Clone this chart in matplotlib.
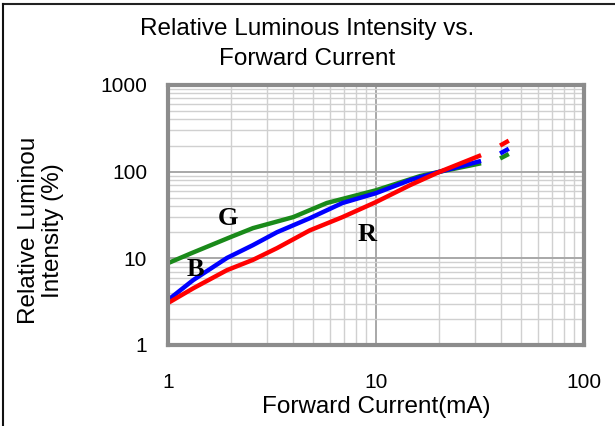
import matplotlib
matplotlib.use("Agg")
import matplotlib.pyplot as plt
from matplotlib.lines import Line2D
from matplotlib.ticker import LogLocator, NullFormatter, FixedLocator

# 読み取った値
current_g = [1.0, 1.3, 2.0, 2.56, 4.0, 5.8, 10.0, 16.3, 20.3, 32.0]
lum_g = [8.8, 11.5, 17.6, 22.3, 29.9, 43.5, 61.0, 89.0, 100.0, 125.0]

current_b = [1.0, 1.32, 1.92, 2.56, 3.34, 4.8, 6.9, 10.0, 14.6, 20.3, 32.0]
lum_b = [3.3, 5.6, 10.1, 14.2, 20.0, 29.0, 43.5, 56.5, 80.0, 100.0, 133.0]

current_r = [1.0, 1.32, 1.92, 2.56, 3.34, 4.8, 6.9, 10.0, 14.6, 20.3, 32.0]
lum_r = [3.05, 4.5, 7.3, 9.6, 13.1, 21.0, 29.9, 44.6, 70.0, 100.0, 155.0]

# 破線の続き
dash_x = [39.5, 43.5]
dash_r = [200.0, 228.0]
dash_b = [162.0, 184.0]
dash_g = [142.0, 160.0]

xticks = [1, 10, 100]
yticks = [1, 10, 100, 1000]

plt.rcParams['font.family'] = ['Liberation Sans', 'DejaVu Sans']

fig = plt.figure(figsize=(6.15, 4.26), dpi=100)
ax = fig.add_axes([168 / 615, 1 - 345 / 426, (584 - 168) / 615, (345 - 85) / 426])

ax.set_xscale('log')
ax.set_yscale('log')
ax.set_xlim(1, 100)
ax.set_ylim(1, 1000)

ax.plot(current_g, lum_g, color='#1a8a1a', lw=3.2, solid_capstyle='butt')
ax.plot(current_b, lum_b, color='#0000ff', lw=3.2, solid_capstyle='butt')
ax.plot(current_r, lum_r, color='#ff0000', lw=3.2, solid_capstyle='butt')
ax.plot(dash_x, dash_g, color='#1a8a1a', lw=3.2, solid_capstyle='butt')
ax.plot(dash_x, dash_b, color='#0000ff', lw=3.2, solid_capstyle='butt')
ax.plot(dash_x, dash_r, color='#ff0000', lw=3.2, solid_capstyle='butt')

lbl = dict(family='Liberation Serif', weight='bold', fontsize=19, ha='center', va='center')
ax.text(1.94, 29.2, 'G', **lbl)
ax.text(1.36, 7.35, 'B', **lbl)
ax.text(9.05, 19.0, 'R', **lbl)

ax.xaxis.set_major_locator(FixedLocator(xticks))
ax.yaxis.set_major_locator(FixedLocator(yticks))
ax.set_xticklabels([str(t) for t in xticks])
ax.set_yticklabels([str(t) for t in yticks])
ax.xaxis.set_minor_locator(LogLocator(base=10, subs=range(2, 10)))
ax.yaxis.set_minor_locator(LogLocator(base=10, subs=range(2, 10)))
ax.xaxis.set_minor_formatter(NullFormatter())
ax.yaxis.set_minor_formatter(NullFormatter())
ax.tick_params(which='both', length=0, labelsize=15, pad=15)
ax.tick_params(axis='x', pad=20)

ax.grid(which='minor', color='#d0d0d0', lw=1.0)
ax.grid(which='major', color='#a8a8a8', lw=1.4)
ax.set_axisbelow(True)
for s in ax.spines.values():
    s.set_color('#8c8c8c')
    s.set_linewidth(3)

ax.set_xlabel('Forward Current(mA)', fontsize=17.5, labelpad=3)
ax.set_ylabel('Relative Luminou\nIntensity (%)', fontsize=17.5, linespacing=1.1)
ax.yaxis.set_label_coords(-0.25, 0.44)
fig.suptitle('Relative Luminous Intensity vs.\nForward Current', fontsize=17.5, y=0.958, linespacing=1.45)

# 外枠（上と左）
fig.add_artist(Line2D([3 / 615, 1], [1 - 4 / 426, 1 - 4 / 426], color='#222222', lw=1.5))
fig.add_artist(Line2D([3 / 615, 3 / 615], [0, 1 - 4 / 426], color='#111111', lw=1.5))

fig.savefig('out.png', dpi=100)
